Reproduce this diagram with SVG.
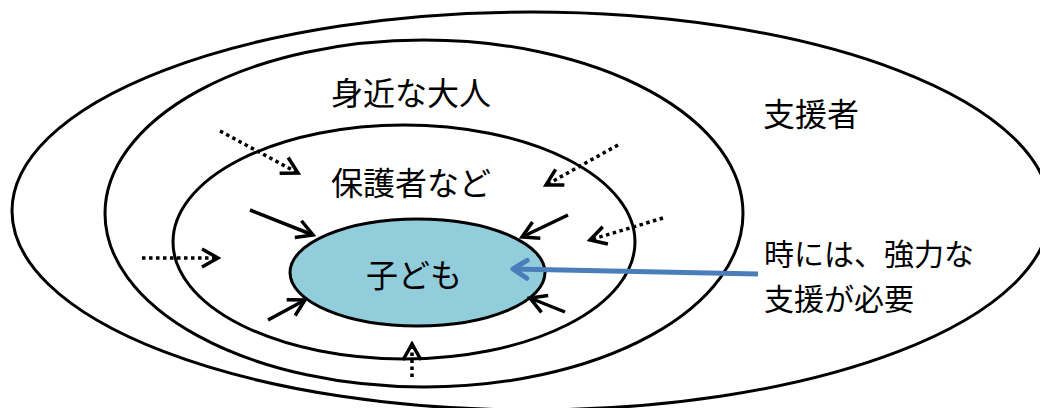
<svg xmlns="http://www.w3.org/2000/svg" width="1040" height="408" viewBox="0 0 1040 408">
<style>
.ring{fill:none;stroke:#000;stroke-width:3}
.lbl{font-family:"Noto Sans CJK JP","Noto Sans CJK SC",sans-serif;font-size:32px;fill:#000}
.side{font-family:"Noto Sans CJK JP","Noto Sans CJK SC",sans-serif;font-size:30px;fill:#000}
.solid{fill:none;stroke:#000;stroke-width:3.5;marker-end:url(#ah)}
.dot{fill:none;stroke:#000;stroke-width:3.5;stroke-dasharray:3.5 3.5;marker-end:url(#ah)}
</style>
<defs>
<marker id="ah" markerUnits="userSpaceOnUse" viewBox="0 0 22 22" refX="19" refY="11" markerWidth="22" markerHeight="22" orient="auto">
<path d="M3,2 L19,11 L3,20" fill="none" stroke="#000" stroke-width="3.5"/>
</marker>
<marker id="bh" markerUnits="userSpaceOnUse" viewBox="0 0 24 24" refX="20" refY="12" markerWidth="24" markerHeight="24" orient="auto">
<path d="M6,3 L20,12 L6,21" fill="none" stroke="#4A7EBB" stroke-width="5" stroke-linecap="round" stroke-linejoin="round"/>
</marker>
</defs>
<rect width="1040" height="408" fill="#fff"/>
<g id="supporters">
<ellipse class="ring" cx="531" cy="211" rx="519" ry="199"/>
<text class="lbl" x="763" y="126">支援者</text>
</g>
<g id="close-adults">
<ellipse class="ring" cx="424" cy="213.5" rx="319" ry="173.5"/>
<text class="lbl" x="331" y="105">身近な大人</text>
</g>
<g id="guardians">
<ellipse class="ring" cx="404" cy="242" rx="231" ry="117"/>
<text class="lbl" x="331" y="195">保護者など</text>
</g>
<g id="child">
<ellipse cx="417.5" cy="272.5" rx="127.5" ry="53.5" fill="#92CDDC" stroke="#000" stroke-width="3"/>
<text class="lbl" x="366" y="287">子ども</text>
</g>
<g id="note">
<text class="side" x="764" y="265">時には、強力な</text>
<text class="side" x="764" y="310">支援が必要</text>
</g>
<g id="connectors">
<line class="dot" x1="220" y1="131" x2="298" y2="173"/>
<line class="dot" x1="618" y1="145" x2="546" y2="185"/>
<line class="dot" x1="142" y1="258" x2="218" y2="258"/>
<line class="dot" x1="663" y1="218" x2="590" y2="240"/>
<line class="dot" x1="412" y1="377" x2="412" y2="344"/>
<line class="solid" x1="250" y1="210" x2="313" y2="235"/>
<line class="solid" x1="268" y1="320" x2="305" y2="300"/>
<line class="solid" x1="568" y1="215" x2="522" y2="237"/>
<line class="solid" x1="565" y1="312" x2="530" y2="298"/>
<line x1="758" y1="274" x2="513" y2="269" stroke="#4A7EBB" stroke-width="5" marker-end="url(#bh)"/>
</g>
</svg>
